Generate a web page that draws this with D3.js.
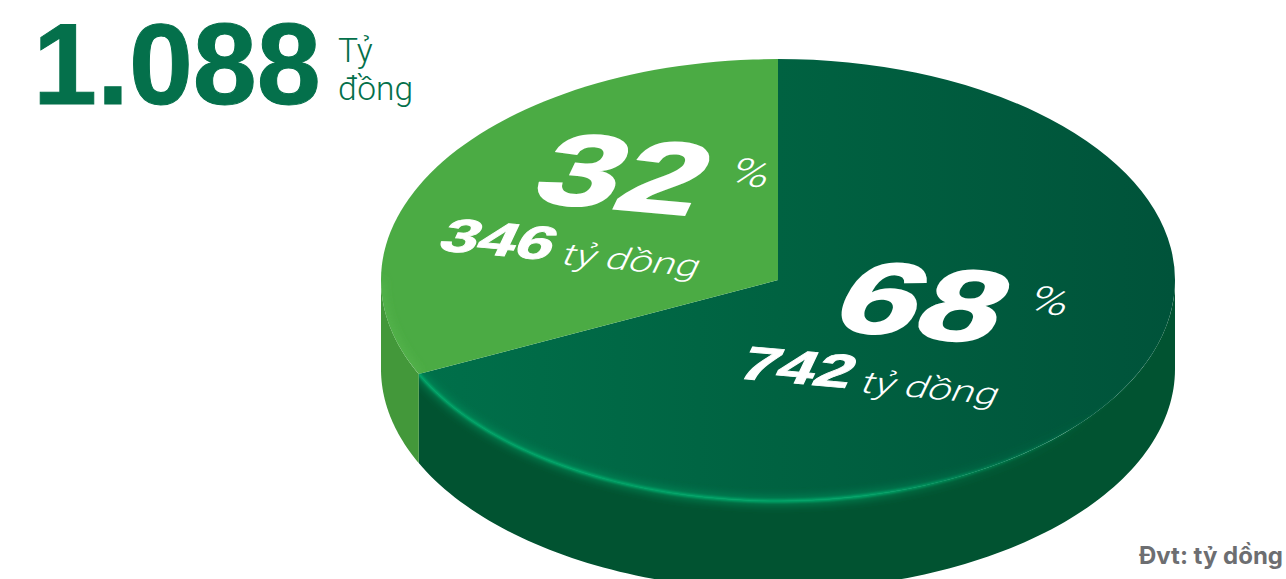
<!DOCTYPE html>
<html><head><meta charset="utf-8">
<script src="https://cdn.jsdelivr.net/npm/d3@7/dist/d3.min.js"></script>
<style>html,body{margin:0;padding:0;background:#fff;overflow:hidden}svg{display:block}</style>
</head><body><svg id="chart" width="1286" height="579"></svg>
<script>
// Cơ cấu 1.088 tỷ đồng
const totalLabel = "1.088";
const totalUnit = ["Tỷ", "đồng"];
const shares = [68, 32];
const amounts = [742, 346];
const unitLabel = "tỷ dồng";
const noteLabel = "Đvt: tỷ dồng";

const W = 1286, H = 579;
const cx = 778, cy = 280, rx = 397, ry = 221, depth = 89;
const svg = d3.select("#chart").attr("viewBox", [0, 0, W, H]);
const defs = svg.append("defs");

function linear(id, stops, attrs) {
  const g = defs.append("linearGradient").attr("id", id).attr("gradientUnits", "userSpaceOnUse");
  Object.entries(attrs).forEach(([k, v]) => g.attr(k, v));
  stops.forEach(([o, c, a]) => g.append("stop").attr("offset", o).attr("stop-color", c).attr("stop-opacity", a ?? 1));
}
// The top group is centred on the pie, so its gradient runs from -rx to +rx.
linear("topDark", [[0, "#00714b"], [0.5, "#006241"], [1, "#00533a"]], {x1: -rx, x2: rx, y1: 0, y2: 0});
linear("rimFade", [[0, "#00a86a", 1], [0.6, "#00a86a", 1], [0.72, "#00a86a", 0.55], [0.88, "#00a86a", 0.08], [1, "#00a86a", 0]], {x1: cx - rx, x2: cx + rx, y1: 0, y2: 0});
linear("wallFade", [[0, "#00925c", 0.85], [0.6, "#00925c", 0.85], [0.75, "#00925c", 0.3], [0.9, "#00925c", 0], [1, "#00925c", 0]], {x1: cx - rx, x2: cx + rx, y1: 0, y2: 0});

const blur = (id, sd) => defs.append("filter").attr("id", id)
  .attr("filterUnits", "userSpaceOnUse").attr("x", 0).attr("y", 0).attr("width", W).attr("height", H + 40)
  .append("feGaussianBlur").attr("stdDeviation", sd);
blur("softWide", 4);
blur("softTight", 1.1);

const pie = d3.pie().sort(null).value(d => d);
const slices = pie(shares);
const arc = d3.arc().innerRadius(0).outerRadius(rx);
const yRatio = ry / rx;
const px = a => cx + rx * Math.sin(a);
const py = a => cy - ry * Math.cos(a);
const sweep = (a0, a1) => d3.range(121).map(i => a0 + (a1 - a0) * i / 120);
const rimPath = (a0, a1) => d3.line().x(px).y(py)(sweep(a0, a1));

// Outer wall of a slice: the visible rim between two angles, extruded downward.
function wall(a0, a1) {
  const pts = sweep(a0, a1);
  return d3.line()(pts.map(a => [px(a), py(a)]).concat(pts.slice().reverse().map(a => [px(a), py(a) + depth]))) + "Z";
}

const darkWall = wall(Math.PI / 2, slices[0].endAngle);
const lightWall = wall(slices[1].startAngle, 3 * Math.PI / 2);
svg.append("g").selectAll("path").data([[darkWall, "#015331"], [lightWall, "#43983a"]]).join("path")
  .attr("d", d => d[0]).attr("fill", d => d[1]);

// Tops of the two slices, flattened into an ellipse.
const topTransform = `translate(${cx},${cy}) scale(1,${yRatio})`;
const tops = svg.append("g").attr("transform", topTransform);
tops.selectAll("path").data(slices).join("path")
  .attr("d", arc).attr("fill", (d, i) => i === 0 ? "url(#topDark)" : "#4bab44");

// Soft glow where the top face meets the wall, kept inside each slice's own shape.
const clipDark = defs.append("clipPath").attr("id", "clipDark");
clipDark.append("path").attr("d", darkWall);
clipDark.append("path").attr("d", arc(slices[0])).attr("transform", topTransform);
const clipLight = defs.append("clipPath").attr("id", "clipLight");
clipLight.append("path").attr("d", arc(slices[1])).attr("transform", topTransform);

const darkRim = rimPath(Math.PI / 2, slices[0].endAngle);
const glow = svg.append("g").attr("clip-path", "url(#clipDark)").attr("fill", "none");
glow.append("path").attr("d", darkRim).attr("stroke", "url(#wallFade)").attr("stroke-width", 7).attr("filter", "url(#softWide)");
glow.append("path").attr("d", darkRim).attr("stroke", "url(#rimFade)").attr("stroke-width", 3).attr("filter", "url(#softTight)");
svg.append("g").attr("clip-path", "url(#clipLight)").append("path")
  .attr("d", rimPath(slices[1].startAngle, 3 * Math.PI / 2))
  .attr("fill", "none").attr("stroke", "#5cbb52").attr("stroke-width", 5).attr("stroke-opacity", 0.7).attr("filter", "url(#softWide)");

// Captions, laid onto the tilted surface.
const heavy = "'Liberation Sans', Arial, sans-serif";
const thin = "Roboto, sans-serif";
const surface = "matrix(1.35,0.125,-0.45,0.95,0,0)";
const surfaceWide = "matrix(1.4,0.125,-0.45,0.95,0,0)";
const groupOffsets = [{dx: 299, dy: 128}, {dx: 0, dy: 0}];
const labels = svg.append("g").attr("fill", "#fff");
function surfaceText(x, y, dx, dy, size, weight, family, stroke, str, m = surface) {
  labels.append("text").attr("transform", `translate(${x + dx},${y + dy}) ${m}`)
    .attr("font-family", family).attr("font-weight", weight).attr("font-size", size)
    .attr("stroke", stroke ? "#fff" : "none").attr("stroke-width", stroke).text(str);
}
shares.forEach((s, i) => {
  const {dx, dy} = groupOffsets[i];
  surfaceText(528, 201, dx, dy, 104, 700, heavy, 2, s, surfaceWide);
  surfaceText(727, 183, dx - 1, dy + 1, 39, 300, thin, 0, "%");
  surfaceText(436, 250, dx, dy, 48, 700, heavy, 0.9, amounts[i], surfaceWide);
  surfaceText(559, 264, dx, dy, 31, 300, thin, 0, unitLabel);
});

svg.append("text").attr("x", 33).attr("y", 104).attr("font-family", heavy).attr("font-weight", 700)
  .style("font-kerning", "none")
  .attr("font-size", 115).attr("fill", "#04704b").attr("stroke", "#04704b").attr("stroke-width", 1).text(totalLabel);
svg.append("g").selectAll("text").data(totalUnit).join("text")
  .attr("x", 338).attr("y", (d, i) => 62 + i * 38).attr("font-family", thin).attr("font-weight", 300)
  .attr("font-size", 33.5).attr("fill", "#04704b").text(d => d);

svg.append("text").attr("x", 1283).attr("y", 564).attr("text-anchor", "end").attr("font-family", "Inter, Roboto, sans-serif")
  .attr("font-weight", 700).attr("font-size", 24).attr("fill", "#6d6e71").text(noteLabel);
</script></body></html>
